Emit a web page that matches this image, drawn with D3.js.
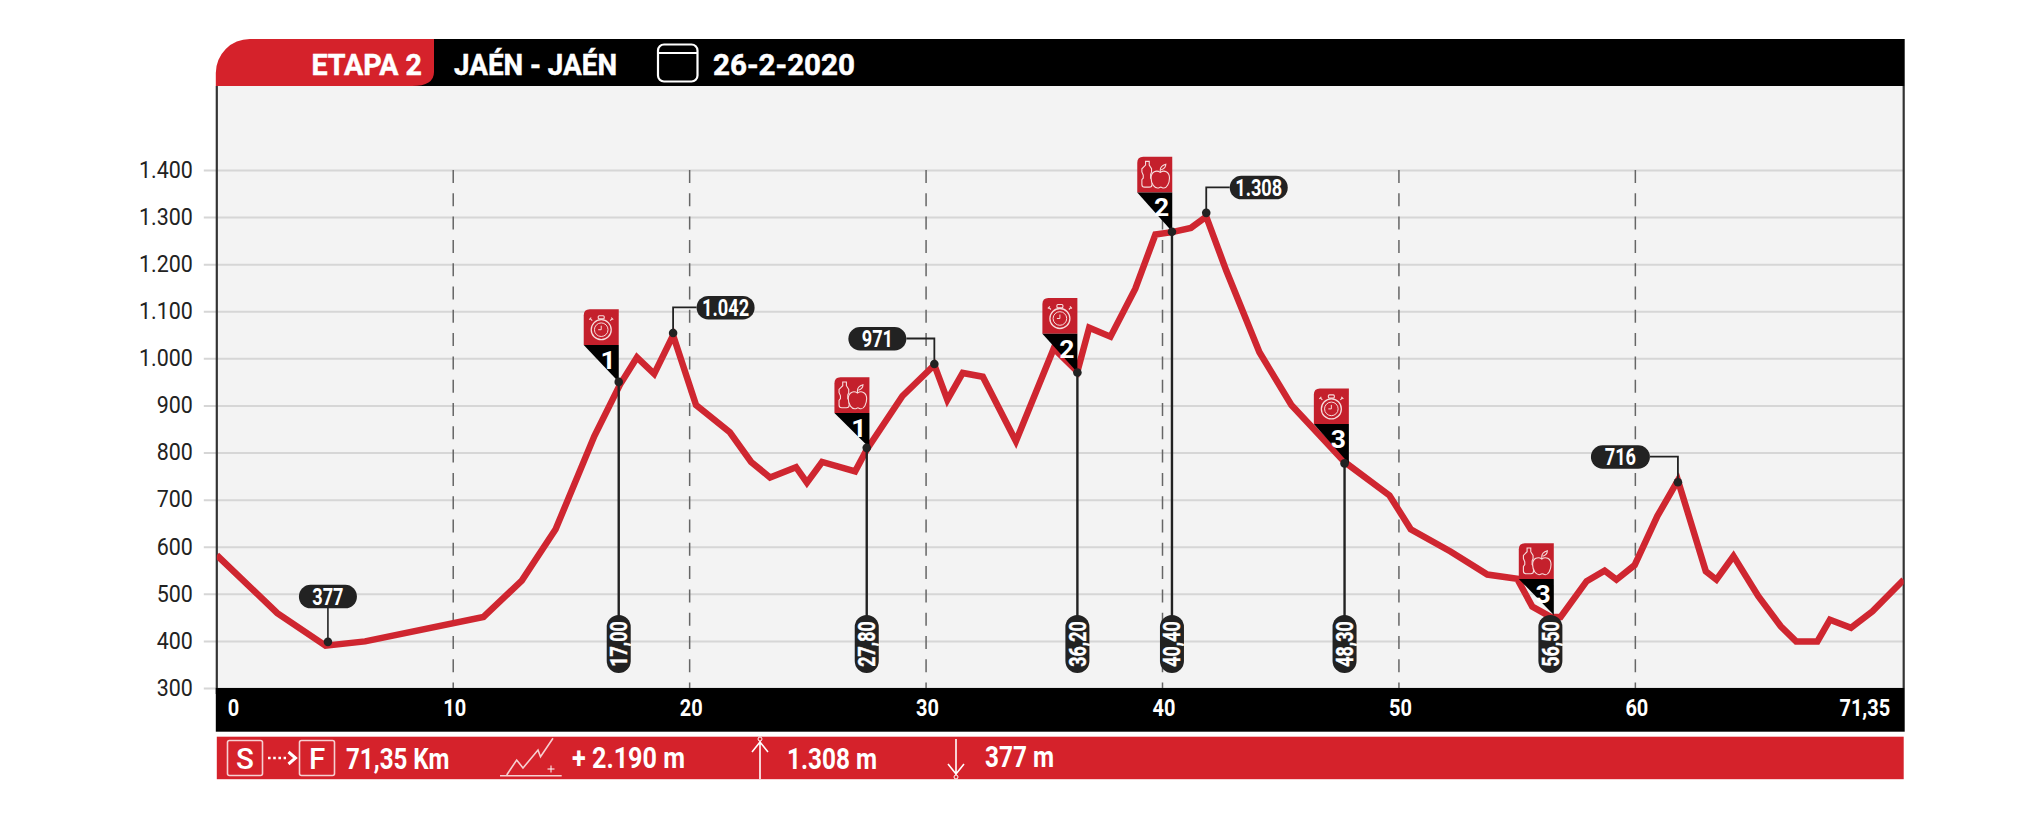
<!DOCTYPE html>
<html><head><meta charset="utf-8">
<script src="https://cdn.jsdelivr.net/npm/d3@7"></script>
<style>
html,body{margin:0;padding:0;background:#fff;overflow:hidden}
svg{display:block}
text{font-family:Roboto,"Open Sans","DejaVu Sans",sans-serif}
</style></head><body>
<svg id="c" width="2021" height="829"></svg>
<script>
// ---- data ----
const km = [0,2.56,4.6,6.27,11.28,12.9,14.33,15.97,17.06,17.77,18.5,19.3,20.27,21.7,22.6,23.4,24.5,24.96,25.6,27,27.5,29,30.35,30.9,31.55,32.4,33.8,35.4,36.4,36.9,37.8,38.85,39.7,40.4,41.2,41.85,42.7,44.1,45.45,47.7,49.6,50.5,52.18,53.74,55,55.64,56.42,56.84,57.94,58.7,59.2,59.97,60.93,61.8,62.98,63.43,64.15,65.2,66.15,66.8,67.7,68.23,69.12,70.03,71.35];
const elevation = [582,459,390,399,451,528,637,835,945,1002,967,1049,901,843,780,747,769,736,780,760,807,920,986,912,969,961,824,1021,972,1065,1046,1148,1263,1268,1277,1301,1186,1013,901,780,709,637,590,541,532,473,451,451,527,549,530,561,665,741,548,530,580,495,431,399,399,445,428,463,530];
const yTicks = [300,400,500,600,700,800,900,1000,1100,1200,1300,1400];
const xTicks = [0,10,20,30,40,50,60,71.35];
const flagKm = [17.0,27.49,36.4,40.4,47.7,56.55];
const flagElev = [950,810,970,1269,777,455];
const flagType = ["clock","food","clock","food","clock","food"];
const flagNumber = ["1","1","2","2","3","3"];
const flagLabel = ["17,00","27,80","36,20","40,40","48,30","56,50"];
const peakKm = [4.7,19.3,30.35,41.85,61.8];
const peakElev = [398,1054,988,1309,737];
const peakLabel = ["377","1.042","971","1.308","716"];
const stageTitle = "ETAPA 2", stageRoute = "JAÉN - JAÉN", stageDate = "26-2-2020";
const stats = ["71,35 Km","+ 2.190 m","1.308 m","377 m"];

const RED="#d5222b", BLACK="#000", DARK="#222", PANEL="#f3f3f3", GRID="#d6d6d6";
const L=216.8,R=1903.7,T=86,B=688;
const svg=d3.select("#c");
const x=d3.scaleLinear().domain([0,71.35]).range([L,R]);
const y=d3.scaleLinear().domain([300,1400]).range([B,170]);
const fmt=d3.format(",");
const es=v=>fmt(v).replace(/,/g,".");
// squeeze text horizontally (the original face is condensed)
function narrow(sel,f){
 sel.each(function(){
  const w=this.getComputedTextLength();
  d3.select(this).attr("textLength",w*f).attr("lengthAdjust","spacingAndGlyphs");
 });
 return sel;
}

// panel
svg.append("rect").attr("x",L).attr("y",T).attr("width",R-L).attr("height",B-T).attr("fill",PANEL);

// grid + y axis
const gy=svg.append("g").attr("transform",`translate(${L},0)`)
 .call(d3.axisLeft(y).tickValues(yTicks).tickSize(0).tickPadding(0).tickFormat(es));
gy.select(".domain").remove();
gy.selectAll(".tick line").attr("x1",-13).attr("x2",R-L).attr("stroke",GRID).attr("stroke-width",2);
gy.selectAll(".tick text").attr("x",-24).attr("fill","#222").attr("font-size",24.5).attr("dy","0.3em")
 .style("font-family",'Roboto,sans-serif').attr("font-weight",400);
narrow(gy.selectAll(".tick text"),0.875);

// dashes
svg.append("g").selectAll("line").data(xTicks.slice(1,-1)).join("line")
 .attr("x1",d=>x(d)).attr("x2",d=>x(d)).attr("y1",170).attr("y2",B)
 .attr("stroke","#666").attr("stroke-width",1.5).attr("stroke-dasharray","13 10.3");

// side lines
svg.append("line").attr("x1",L).attr("x2",L).attr("y1",T).attr("y2",B+6).attr("stroke","#333").attr("stroke-width",2.2);
svg.append("line").attr("x1",R).attr("x2",R).attr("y1",T).attr("y2",B).attr("stroke","#333").attr("stroke-width",2.2);

// header
svg.append("rect").attr("x",L+40).attr("y",39).attr("width",R-L-40+1).attr("height",47).attr("fill",BLACK);
svg.append("path").attr("fill",RED)
 .attr("d",`M${L-1},86 V73 A34,34 0 0 1 ${L+33},39 H434 V72 Q434,86 412,86 Z`);
function label(t,x0,x1,yy,size,opt={}){
 return svg.append("text").attr("x",x0).attr("y",yy).attr("fill",opt.fill||"#fff")
  .attr("font-size",size).attr("font-weight",opt.w||700)
  .attr("stroke",opt.fat?"#fff":null).attr("stroke-width",opt.fat||null)
  .attr("textLength",x1-x0).attr("lengthAdjust","spacingAndGlyphs").text(t);
}
label(stageTitle,311.5,422,75,30,{fat:0.5});
label(stageRoute,454,617,75,30,{fat:0.5});
label(stageDate,713,855,75,30,{fat:0.5});
svg.append("rect").attr("x",658).attr("y",44.5).attr("width",39.5).attr("height",37).attr("rx",6)
 .attr("fill","none").attr("stroke","#fff").attr("stroke-width",2.2);
svg.append("line").attr("x1",658).attr("x2",697.5).attr("y1",53).attr("y2",53).attr("stroke","#fff").attr("stroke-width",2.2);

// x axis band
svg.append("rect").attr("x",L-1).attr("y",B).attr("width",R-L+2).attr("height",43.7).attr("fill",BLACK);
const gx=svg.append("g").attr("transform",`translate(0,${B})`)
 .call(d3.axisBottom(x).tickValues(xTicks).tickSize(0).tickPadding(0)
   .tickFormat(d=>String(d).replace(".",",")));
gx.select(".domain").remove();
gx.selectAll(".tick text").attr("y",20).attr("dy","0.35em").attr("fill","#fff").attr("font-size",23.5)
 .attr("font-weight",700).attr("text-anchor",d=>d===0?"start":d===71.35?"end":"middle")
 .attr("dx",d=>d===0?10.5:d===71.35?-14:1)
 .style("font-family",'Roboto,sans-serif');
narrow(gx.selectAll(".tick text"),0.85);

// profile line
const line=d3.line().x((d,i)=>x(km[i])).y(d=>y(d)).curve(d3.curveLinear);
svg.append("clipPath").attr("id","clip").append("rect").attr("x",L).attr("y",T).attr("width",R-L).attr("height",B-T);
svg.append("path").datum(elevation).attr("d",line).attr("fill","none").attr("stroke","#cf2630")
 .attr("stroke-width",6.5).attr("stroke-linejoin","miter").attr("clip-path","url(#clip)");

// icons
function clockIcon(g){
 const s="#f6dcdc";
 g.append("circle").attr("cx",0).attr("cy",2).attr("r",10).attr("fill","none").attr("stroke",s).attr("stroke-width",1.3);
 g.append("circle").attr("cx",0).attr("cy",2).attr("r",6.8).attr("fill","none").attr("stroke",s).attr("stroke-width",1);
 g.append("path").attr("d","M0,-2V2H-3").attr("fill","none").attr("stroke",s).attr("stroke-width",1);
 g.append("rect").attr("x",-3).attr("y",-12).attr("width",6).attr("height",3.2).attr("rx",1).attr("fill","none").attr("stroke",s).attr("stroke-width",1.1);
 g.append("path").attr("d","M-9,-7L-11,-9M-12,-8L-10,-10M9,-7L11,-9M12,-8L10,-10").attr("fill","none").attr("stroke",s).attr("stroke-width",1.1);
}
function foodIcon(g){
 const s="#f6dcdc";
 g.attr("transform",g.attr("transform")+" scale(.92)");
 g.append("path").attr("fill","none").attr("stroke",s).attr("stroke-width",1.2)
  .attr("d","M-10,-15H-6V-11L-3.5,-7V-3.5L-4.5,-1V3L-3,5V10Q-3,13 -6,13H-11Q-14,13 -14,10V5L-12.5,3V0L-14,-3.5V-7L-10,-11Z");
 g.append("path").attr("fill","#c4202c").attr("stroke",s).attr("stroke-width",1.2)
  .attr("d","M6,-3C2,-6 -4,-4 -4,3C-4,10 0,14 3,14C5,14 5.5,13 6.5,13C7.5,13 8,14 10,14C13,14 16,9 16,3C16,-4 10,-6 6,-3Z");
 g.append("path").attr("fill","none").attr("stroke",s).attr("stroke-width",1.2).attr("d","M6,-3V-6C6,-9 9,-11 12,-12C12,-9 10,-7 7,-6");
}

// flags
const flagShift=[0,2.7,0,0.3,4.3,0];
const flagHeight=[72.7,70.5,74.5,75,75,71.7];
flagKm.forEach((k,i)=>{
 const px=x(k), py=y(flagElev[i]);
 const fx=px+flagShift[i];
 const g=svg.append("g");
 if(i<5) g.append("line").attr("x1",px).attr("x2",px).attr("y1",py).attr("y2",640).attr("stroke",DARK).attr("stroke-width",2.4);
 const ftop=py-flagHeight[i], fmid=ftop+35.7;
 g.append("path").attr("fill","#c4202c").attr("d",`M${fx-35},${fmid} V${ftop+6} Q${fx-35},${ftop} ${fx-29},${ftop} H${fx} V${fmid} Z`);
 g.append("path").attr("fill",BLACK).attr("d",`M${fx-35},${fmid} H${fx} V${py} Z`);
 g.append("text").attr("x",fx-3).attr("y",fmid+24).attr("text-anchor","end").attr("fill","#fff")
  .attr("font-size",26.5).attr("font-weight",700).text(flagNumber[i]);
 const ic=g.append("g").attr("transform",`translate(${fx-17.5},${ftop+18.5})`);
 (flagType[i]==="clock"?clockIcon:foodIcon)(ic);
 if(i<5) g.append("circle").attr("cx",px).attr("cy",py).attr("r",4.3).attr("fill",DARK);
 const cx=i===5?fx-3.4:px;
 g.append("rect").attr("x",cx-12).attr("y",615).attr("width",24).attr("height",58).attr("rx",12).attr("fill",DARK);
 narrow(g.append("text").attr("transform",`translate(${cx+8.5},644) rotate(-90)`).attr("text-anchor","middle")
  .attr("fill","#fff").attr("stroke","#fff").attr("stroke-width",0.4).attr("font-size",23.5).attr("font-weight",700).text(flagLabel[i]),0.76);
});

// peak callouts
const peakDir=[0,1,-1,1,-1];
peakKm.forEach((k,i)=>{
 const px=x(k), py=y(peakElev[i]), g=svg.append("g");
 const dir=peakDir[i];
 const w=i===4?59:58,h=23.5;
 if(dir===0){
  g.append("line").attr("x1",px).attr("x2",px).attr("y1",py).attr("y2",py-45).attr("stroke",DARK).attr("stroke-width",1.6);
  g.append("rect").attr("x",px-29).attr("y",py-57).attr("width",58).attr("height",h).attr("rx",11.7).attr("fill",DARK);
  narrow(g.append("text").attr("x",px).attr("y",py-37).attr("text-anchor","middle").attr("fill","#fff").attr("font-size",23).attr("font-weight",700).text(peakLabel[i]),0.79);
 } else {
  const yy=py-25.5, xb=dir>0?px+23.5:px-28;
  g.append("path").attr("d",`M${px},${py}V${yy}H${xb}`).attr("fill","none").attr("stroke",DARK).attr("stroke-width",1.8);
  const rx=dir>0?xb:xb-w;
  g.append("rect").attr("x",rx).attr("y",yy-11.5).attr("width",w).attr("height",h).attr("rx",11.7).attr("fill",DARK);
  narrow(g.append("text").attr("x",rx+w/2).attr("y",yy+8.3).attr("text-anchor","middle").attr("fill","#fff").attr("font-size",23).attr("font-weight",700).text(peakLabel[i]),0.79);
 }
 g.append("circle").attr("cx",px).attr("cy",py).attr("r",4.3).attr("fill",DARK);
});

// footer
svg.append("rect").attr("x",L).attr("y",736.7).attr("width",R-L).attr("height",42.5).attr("fill",RED);
const W="#fff", Wp="#f6d0d1";
[[227.5,"S"],[299.5,"F"]].forEach(([bx,t])=>{
 svg.append("rect").attr("x",bx).attr("y",740.5).attr("width",35).attr("height",35).attr("rx",2).attr("fill","none").attr("stroke",Wp).attr("stroke-width",1.6);
 svg.append("text").attr("x",bx+17.5).attr("y",769).attr("text-anchor","middle").attr("fill",W).attr("font-size",29.5).attr("font-weight",500).text(t);
});
svg.append("line").attr("x1",268).attr("x2",286).attr("y1",758).attr("y2",758).attr("stroke",W).attr("stroke-width",2.6).attr("stroke-dasharray","2.6 2.6");
svg.append("path").attr("d","M288.5,752L295.5,758L288.5,764").attr("fill","none").attr("stroke",W).attr("stroke-width",3);
label(stats[0],346,449.5,769.3,29,{w:700});
label(stats[1],572,685,768,29,{w:700});
label(stats[2],787,877,769,29,{w:700});
label(stats[3],985,1054,767,29,{w:700});
svg.append("path").attr("d","M500,775.7H561.7M506.7,775L516.7,760L523,768L538,750L540.5,756.7L553,738.3").attr("fill","none").attr("stroke",Wp).attr("stroke-width",1.6);
svg.append("path").attr("d","M547.5,769H554.5M551,765.5V772.5").attr("stroke",W).attr("stroke-width",1);
svg.append("path").attr("d","M760,779V741M752,752L760,742L768,752").attr("fill","none").attr("stroke",W).attr("stroke-width",1.6);
svg.append("circle").attr("cx",760).attr("cy",739).attr("r",2).attr("fill","none").attr("stroke",W);
svg.append("path").attr("d","M956,739V775M948,764L956,774L964,764").attr("fill","none").attr("stroke",W).attr("stroke-width",1.6);
svg.append("circle").attr("cx",956).attr("cy",777).attr("r",2).attr("fill","none").attr("stroke",W);
</script></body></html>
